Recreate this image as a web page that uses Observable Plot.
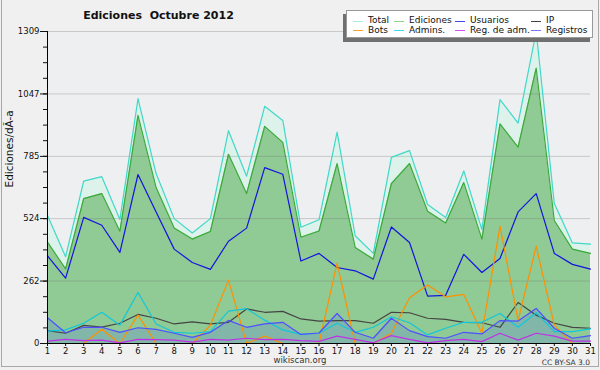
<!DOCTYPE html>
<html>
<head>
<meta charset="utf-8">
<script src="https://cdn.jsdelivr.net/npm/d3@7"></script>
<script src="https://cdn.jsdelivr.net/npm/@observablehq/plot@0.6"></script>
<style>
  html, body { margin: 0; padding: 0; background: #f0f0f0; }
  #wrap { position: relative; width: 600px; height: 370px; font-family: "DejaVu Sans", sans-serif; overflow: hidden; }
  #border { position: absolute; left: 1px; top: 0px; width: 596px; height: 366px; border: 1px solid #a8a8a8; border-top: none; pointer-events: none; }
  #title { position: absolute; left: 0; width: 317px; top: 9px; text-align: center; font-weight: bold; font-size: 11px; color: #111; white-space: pre; }
  #legend { position: absolute; left: 346px; top: 10px; width: 245px; height: 26px; background: #fff; border: 1px solid #999; box-shadow: -3px 4px 0 #707070; font-size: 9px; color: #111; }
  .li { position: absolute; white-space: nowrap; line-height: 9px; }
  .sw { position: absolute; height: 0; border-top: 1.3px solid; width: 10px; }
  #site { position: absolute; left: 0; width: 600px; top: 355px; text-align: center; font-size: 8.5px; color: #333; }
  #cc { position: absolute; right: 10px; top: 358px; font-size: 7.5px; color: #333; }
  svg { position: absolute; left: 0; top: 0; }
</style>
</head>
<body>
<div id="wrap">
  <div id="chart"></div>
  <div id="border"></div>
  <div id="title">Ediciones  Octubre 2012</div>
  <div id="legend"></div>
  <div id="site">wikiscan.org</div>
  <div id="cc">CC BY-SA 3.0</div>
</div>
<script>
const days = [1,2,3,4,5,6,7,8,9,10,11,12,13,14,15,16,17,18,19,20,21,22,23,24,25,26,27,28,29,30,31];
const total     = [537,364,681,700,520,1027,713,524,464,524,893,702,995,936,488,519,887,452,378,781,809,583,529,724,478,1023,925,1309,587,422,417];
const ediciones = [425,313,608,629,471,957,654,485,438,470,794,629,911,844,446,472,755,403,354,671,755,555,506,675,438,921,824,1155,516,396,378];
const usuarios  = [368,274,529,496,382,709,552,396,340,311,429,484,738,710,346,378,319,305,270,489,424,199,202,374,298,357,552,629,378,332,312];
const ip        = [54,43,76,69,85,122,106,82,91,82,89,145,131,135,103,94,96,96,85,131,129,106,101,89,87,68,172,119,85,68,64];
const bots      = [0,0,0,60,0,119,0,0,0,77,266,0,31,0,0,0,337,0,0,43,192,245,196,206,43,492,96,408,77,0,0];
const admins    = [52,57,85,131,77,214,82,47,43,50,136,146,98,57,38,43,85,47,68,112,87,36,64,89,89,126,68,129,50,50,61];
const regAdm    = [10,17,12,14,3,17,16,14,6,17,14,22,16,17,12,9,31,17,3,33,17,3,12,17,8,43,14,43,31,10,10];
const registros = [108,45,68,68,47,66,59,43,26,47,97,68,82,89,38,44,126,47,22,106,54,29,22,47,40,96,94,147,64,22,33];

const yMajor = [0, 262, 524, 785, 1047, 1309];
const yMinorStep = 1309 / 20;
const yMinor = d3.range(0, 21).map(i => i * yMinorStep);
const yLabel = "Ediciones/dÃ-a";

const series = [
  {key: "total", name: "Total", color: "#40d8c8", legend: "#a8ece4"},
  {key: "ediciones", name: "Ediciones", color: "#3aaa3a", legend: "#88d888"},
  {key: "usuarios", name: "Usuarios", color: "#1414e0", legend: "#4444ee"},
  {key: "ip", name: "IP", color: "#444444", legend: "#444444"},
  {key: "bots", name: "Bots", color: "#ff9000", legend: "#ffa030"},
  {key: "admins", name: "Admins.", color: "#10c8dc", legend: "#40d8e8"},
  {key: "regAdm", name: "Reg. de adm.", color: "#c030e8", legend: "#d050f0"},
  {key: "registros", name: "Registros", color: "#5050ff", legend: "#7878ff"}
];

const rows = days.map((d, i) => ({
  day: d, total: total[i], ediciones: ediciones[i], usuarios: usuarios[i], ip: ip[i],
  bots: bots[i], admins: admins[i], regAdm: regAdm[i], registros: registros[i]
}));

const plot = Plot.plot({
  width: 600,
  height: 370,
  marginLeft: 47,
  marginRight: 10,
  marginTop: 31,
  marginBottom: 27,
  style: {fontFamily: "DejaVu Sans, sans-serif", fontSize: "8.5px", background: "transparent", color: "#111"},
  x: {type: "linear", domain: [1, 31]},
  y: {domain: [0, 1309], label: null},
  marks: [
    Plot.frame({fill: "#eeeff1", stroke: "none"}),
    Plot.areaY(rows, {x: "day", y: "total", fill: "#dcf2ea"}),
    Plot.areaY(rows, {x: "day", y: "ediciones", fill: "#90ca94"}),
    Plot.areaY(rows, {x: "day", y: "registros", fill: "#82b6a8"}),
    Plot.gridY(yMajor, {stroke: "#707070", strokeOpacity: 0.3}),
    ...series.map(s => Plot.lineY(rows, {x: "day", y: s.key, stroke: s.color, strokeWidth: 1.2})),
    Plot.axisY(yMinor, {tickSize: 4, tickFormat: () => "", label: null}),
    Plot.axisY(yMajor, {tickSize: 7, tickPadding: 1, tickFormat: d => String(d), label: null, fontSize: 8.5}),
    Plot.axisX(days, {tickSize: 3, tickPadding: 1, tickFormat: d => String(d), label: null, fontSize: 8.5}),
    Plot.text([yLabel], {frameAnchor: "left", text: d => d, rotate: -90, dx: -37.5, fontSize: 10.5, fill: "#111"}),
    Plot.ruleX([1], {stroke: "#000"}),
    Plot.ruleY([0], {stroke: "#000"})
  ]
});
document.getElementById("chart").appendChild(plot);

// legend
const leg = document.getElementById("legend");
const colX = [21, 62, 123, 199];
const rowY = [5, 14.5];
series.forEach((s, i) => {
  const c = i < 4 ? i : i - 4;
  const r = i < 4 ? 0 : 1;
  const sw = document.createElement("div");
  sw.className = "sw";
  sw.style.left = (colX[c] - 15) + "px";
  sw.style.top = (rowY[r] + 4.5) + "px";
  sw.style.borderTopColor = s.legend;
  leg.appendChild(sw);
  const t = document.createElement("div");
  t.className = "li";
  t.style.left = colX[c] + "px";
  t.style.top = rowY[r] + "px";
  t.textContent = s.name;
  leg.appendChild(t);
});
</script>
</body>
</html>
